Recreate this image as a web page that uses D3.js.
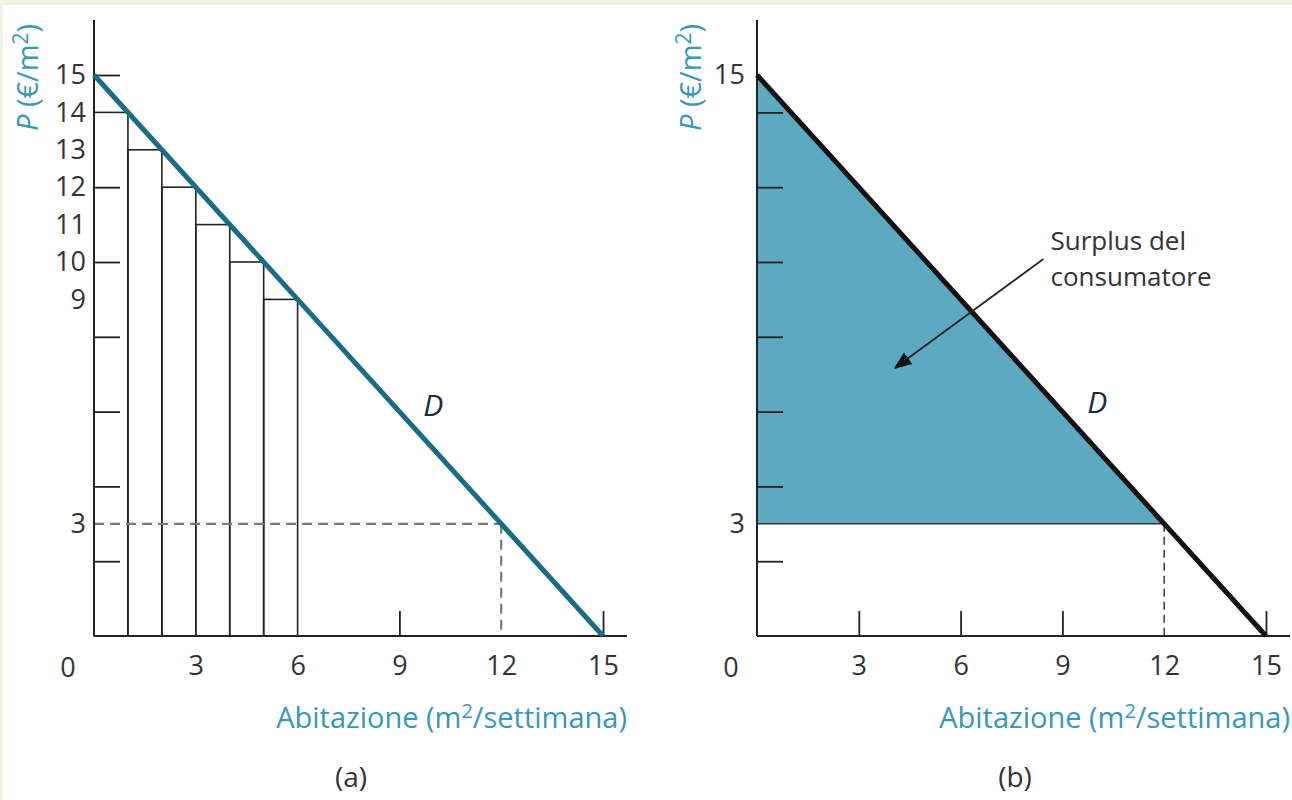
<!DOCTYPE html>
<html>
<head>
<meta charset="utf-8">
<script src="https://cdn.jsdelivr.net/npm/d3@7"></script>
<style>
  body { margin: 0; background: #fff; }
  svg text { font-family: "Open Sans", sans-serif; }
</style>
</head>
<body>
<svg id="chart" width="1292" height="800"></svg>
<script>
// data
const qtyTicks = [3, 6, 9, 12, 15];
const demandQ = [0, 15];
const demandP = [15, 0];
const stepQ = [1, 2, 3, 4, 5, 6];
const stepP = [14, 13, 12, 11, 10, 9];
const priceLabelsA = [15, 14, 13, 12, 11, 10, 9, 3];
const priceTicksA = [15, 12, 10, 8, 6, 4, 2];
const priceLabelsB = [15, 3];
const priceTicksB = [14, 12, 10, 8, 6, 4, 2];
const qtyTickMarksA = [9, 15];
const qtyTickMarksB = [3, 6, 9, 15];
const marketPrice = 3;
const marketQty = 12;
const noteLines = ['Surplus del', 'consumatore'];

const svg = d3.select('#chart');

// light frame like the scanned page
svg.append('rect').attr('width', 1292).attr('height', 800).attr('fill', '#eef3e4');
svg.append('rect').attr('x', 3).attr('y', 5).attr('width', 1289).attr('height', 795).attr('fill', '#fff');

const teal = '#186c84';
const labelTeal = '#3797b7';
const fillTeal = '#5ea9c2';
const numSize = 27;

function drawPanel(ox, opts) {
  const x = d3.scaleLinear().domain([0, 15]).range([ox, ox + 509]);
  const y = d3.scaleLinear().domain([0, 15]).range([636, 75]);
  const g = svg.append('g');

  // consumer surplus area (panel b)
  if (opts.surplus) {
    const area = [[0, 15], [marketQty, marketPrice], [0, marketPrice]];
    g.append('path')
      .attr('d', d3.line().x(d => x(d[0])).y(d => y(d[1]))(area) + 'Z')
      .attr('fill', fillTeal);
    g.append('line')
      .attr('x1', x(0)).attr('x2', x(marketQty))
      .attr('y1', y(marketPrice)).attr('y2', y(marketPrice))
      .attr('stroke', '#333').attr('stroke-width', 1.5);
  }

  // step bars (panel a)
  if (opts.steps) {
    g.selectAll('.bar')
      .data(stepQ)
      .enter()
      .append('rect')
      .attr('class', 'bar')
      .attr('x', (d, i) => x(d - 1))
      .attr('width', (d) => x(d) - x(d - 1))
      .attr('y', (d, i) => y(stepP[i]))
      .attr('height', (d, i) => y(0) - y(stepP[i]))
      .attr('fill', 'none')
      .attr('stroke', '#222')
      .attr('stroke-width', 1.6);
  }

  // dashed guides
  const dash = g.append('g')
    .attr('stroke', opts.steps ? '#7a7a7a' : '#444')
    .attr('stroke-width', opts.steps ? 2.2 : 1.6)
    .attr('stroke-dasharray', opts.steps ? '10,6' : '8,5')
    .attr('fill', 'none');
  if (opts.steps) {
    dash.append('line')
      .attr('x1', x(0)).attr('x2', x(marketQty))
      .attr('y1', y(marketPrice)).attr('y2', y(marketPrice));
  }
  dash.append('line')
    .attr('x1', x(marketQty)).attr('x2', x(marketQty))
    .attr('y1', y(marketPrice)).attr('y2', y(0));

  // axes lines
  g.append('line').attr('x1', x(0)).attr('x2', x(0)).attr('y1', y(0)).attr('y2', 20)
    .attr('stroke', '#222').attr('stroke-width', 2);
  g.append('line').attr('x1', x(0)).attr('x2', x(15) + 24).attr('y1', y(0)).attr('y2', y(0))
    .attr('stroke', '#222').attr('stroke-width', 2);

  // y tick marks (pointing inward)
  const yTicks = g.append('g')
    .attr('transform', 'translate(' + x(0) + ',0)')
    .call(d3.axisLeft(y).tickValues(opts.priceTicks).tickSizeInner(-26).tickSizeOuter(0).tickFormat(''));
  yTicks.select('.domain').remove();
  yTicks.selectAll('line').attr('stroke', '#222').attr('stroke-width', 1.8);

  // y labels
  const yLab = g.append('g')
    .attr('transform', 'translate(' + x(0) + ',0)')
    .call(d3.axisLeft(y).tickValues(opts.priceLabels).tickSize(0).tickPadding(opts.steps ? 8 : 12));
  yLab.select('.domain').remove();
  yLab.selectAll('text').attr('font-size', numSize).attr('fill', '#333')
    .style('font-family', '"Open Sans", sans-serif');

  // x tick marks (pointing upward)
  const xTicks = g.append('g')
    .attr('transform', 'translate(0,' + y(0) + ')')
    .call(d3.axisBottom(x).tickValues(opts.qtyTickMarks).tickSizeInner(-25).tickSizeOuter(0).tickFormat(''));
  xTicks.select('.domain').remove();
  xTicks.selectAll('line').attr('stroke', '#222').attr('stroke-width', 1.8);

  // x labels
  const xLab = g.append('g')
    .attr('transform', 'translate(0,' + y(0) + ')')
    .call(d3.axisBottom(x).tickValues(qtyTicks).tickSize(0).tickPadding(20));
  xLab.select('.domain').remove();
  xLab.selectAll('text').attr('font-size', numSize).attr('fill', '#333')
    .style('font-family', '"Open Sans", sans-serif');
  // origin label
  g.append('text')
    .attr('x', x(0) - 26).attr('y', y(0) + 41)
    .attr('text-anchor', 'middle').attr('font-size', numSize).attr('fill', '#333')
    .text('0');

  // demand line
  g.append('path')
    .datum(demandQ.map((q, i) => [q, demandP[i]]))
    .attr('d', d3.line().x(d => x(d[0])).y(d => y(d[1])))
    .attr('stroke', opts.lineColor)
    .attr('stroke-width', 5)
    .attr('fill', 'none');

  g.append('text')
    .attr('x', x(opts.dPos[0])).attr('y', y(opts.dPos[1]))
    .attr('text-anchor', 'middle').attr('dominant-baseline', 'middle')
    .attr('font-size', 30).attr('font-style', 'italic').attr('fill', '#1c2b3c')
    .text('D');

  // axis titles
  const yt = g.append('text')
    .attr('transform', 'translate(' + (x(0) - 56) + ',131) rotate(-90)')
    .attr('font-size', 29).attr('fill', labelTeal);
  yt.append('tspan').attr('font-style', 'italic').text('P');
  yt.append('tspan').text(' (€/m');
  yt.append('tspan').attr('font-size', 21).attr('dy', -10).text('2');
  yt.append('tspan').attr('dy', 10).text(')');

  const xt = g.append('text')
    .attr('x', x(15) + 24).attr('y', 728)
    .attr('text-anchor', 'end')
    .attr('font-size', 29).attr('fill', labelTeal);
  xt.append('tspan').text('Abitazione (m');
  xt.append('tspan').attr('font-size', 20).attr('dy', -10).text('2');
  xt.append('tspan').attr('dy', 10).text('/settimana)');

  g.append('text')
    .attr('x', opts.captionX).attr('y', 787)
    .attr('text-anchor', 'middle').attr('font-size', 28).attr('fill', '#333')
    .text(opts.caption);

  return { x: x, y: y, g: g };
}

drawPanel(94, {
  steps: true,
  priceTicks: priceTicksA,
  priceLabels: priceLabelsA,
  qtyTickMarks: qtyTickMarksA,
  lineColor: teal,
  dPos: [10, 6.1],
  captionX: 351,
  caption: '(a)'
});

const pb = drawPanel(757, {
  surplus: true,
  priceTicks: priceTicksB,
  priceLabels: priceLabelsB,
  qtyTickMarks: qtyTickMarksB,
  lineColor: '#111',
  dPos: [10.03, 6.18],
  captionX: 1015,
  caption: '(b)'
});

// annotation arrow in panel b
svg.append('defs').append('marker')
  .attr('id', 'arrow')
  .attr('viewBox', '0 0 10 10')
  .attr('refX', 9).attr('refY', 5)
  .attr('markerWidth', 18).attr('markerHeight', 18)
  .attr('markerUnits', 'userSpaceOnUse')
  .attr('orient', 'auto')
  .append('path').attr('d', 'M0,1 L10,5 L0,9 Z').attr('fill', '#111');

pb.g.append('line')
  .attr('x1', pb.x(8.44)).attr('y1', pb.y(10.08))
  .attr('x2', pb.x(4.07)).attr('y2', pb.y(7.17))
  .attr('stroke', '#222').attr('stroke-width', 1.8)
  .attr('marker-end', 'url(#arrow)');

pb.g.selectAll('.note')
  .data(noteLines)
  .enter()
  .append('text')
  .attr('class', 'note')
  .attr('x', pb.x(8.65))
  .attr('y', (d, i) => 250 + i * 36)
  .attr('font-size', 26)
  .attr('fill', '#333')
  .text(d => d);
</script>
</body>
</html>
